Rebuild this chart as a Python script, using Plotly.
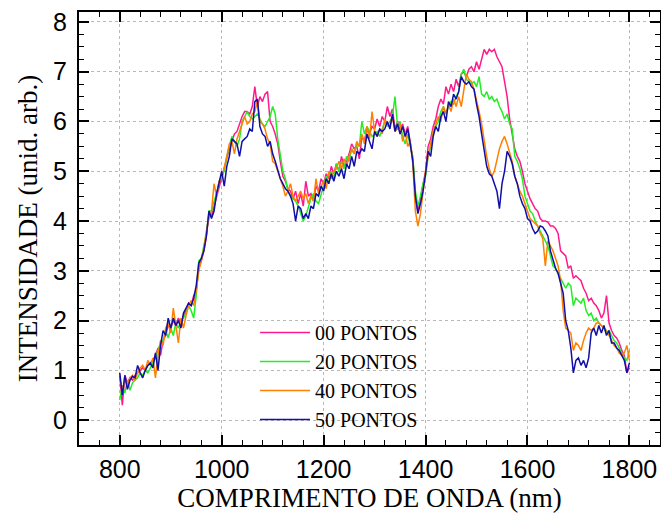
import plotly.graph_objects as go

wavelength = list(range(800, 1805, 5))

p00 = [0.9,0.3,0.9,0.75,0.85,0.8,0.9,0.95,1.0,1.05,1.0,1.1,1.15,1.2,1.3,1.45,1.3,1.6,1.7,1.9,
       1.85,2.0,1.9,2.05,1.95,2.1,2.2,2.35,2.3,2.5,2.6,3.05,3.2,3.4,3.7,4.15,4.1,4.3,4.5,4.7,
       4.9,5.05,5.25,5.45,5.6,5.75,5.8,5.95,6.1,6.2,6.2,6.15,6.3,6.7,6.3,6.5,6.4,6.55,6.6,6.0,
       5.9,5.75,5.55,5.2,4.9,4.8,4.65,4.6,4.45,4.6,4.35,4.55,4.3,4.8,4.5,4.55,4.4,4.7,4.6,4.85,
       4.75,4.95,4.85,5.1,4.95,5.15,5.0,5.3,5.1,5.2,5.35,5.55,5.45,5.5,5.25,5.7,5.6,5.85,5.75,5.9,
       5.85,6.05,5.9,6.1,6.0,6.3,6.1,6.25,5.85,6.0,5.85,5.95,5.75,5.9,5.6,5.25,4.45,4.2,4.45,4.7,
       5.0,5.5,5.65,5.9,6.05,6.3,6.45,6.35,6.7,6.55,6.75,6.6,6.85,6.7,6.95,7.0,6.9,7.05,7.1,7.0,
       7.2,7.05,7.25,7.45,7.35,7.45,7.4,7.45,7.3,7.2,7.1,6.8,6.5,6.05,5.75,5.45,5.3,5.2,5.0,4.75,
       4.6,4.45,4.35,4.25,4.2,4.05,4.0,4.0,3.98,3.9,3.9,3.85,3.75,3.4,3.35,3.3,3.05,3.1,2.85,2.9,
       2.85,2.8,2.65,2.55,2.4,2.45,2.35,2.3,2.2,2.05,2.15,2.5,1.95,1.8,1.7,1.65,1.55,1.4,1.3,0.95,
       1.05]

p20 = [0.4,0.7,0.55,0.8,0.6,0.75,0.8,0.85,0.95,0.9,1.0,0.95,1.05,1.15,1.25,1.4,1.55,1.6,1.8,1.65,
       1.85,1.7,1.95,1.85,2.0,2.05,2.15,2.3,2.2,2.05,2.5,3.2,3.25,3.5,3.75,4.2,4.2,4.4,4.55,4.8,
       4.9,5.0,5.3,5.5,5.7,5.6,5.5,5.65,6.0,6.1,6.2,6.1,6.05,6.1,6.15,6.05,5.95,5.9,6.0,6.1,
       6.3,6.15,5.65,5.3,5.0,4.85,4.6,4.5,4.45,4.4,4.3,4.15,4.0,4.1,4.3,4.45,4.55,4.4,4.35,4.55,
       4.75,4.9,4.75,5.0,4.85,5.15,5.0,5.2,5.05,5.3,5.2,5.45,5.35,5.55,5.5,6.0,5.75,5.9,5.8,5.7,
       5.75,5.8,5.7,5.85,6.0,5.9,6.0,6.1,6.5,5.9,6.0,5.7,5.55,5.75,5.5,5.3,4.6,4.3,4.5,4.75,
       4.9,5.3,5.5,5.8,5.9,6.0,6.2,6.3,6.15,6.3,6.4,6.35,6.5,6.6,6.95,7.05,6.85,6.8,6.75,6.8,
       6.7,6.9,6.55,6.5,6.6,6.45,6.5,6.4,6.45,6.3,6.2,6.05,6.15,5.95,5.85,5.3,5.2,5.05,4.85,4.5,
       4.35,4.2,4.15,4.0,3.9,3.8,3.7,3.6,3.5,3.3,3.1,3.05,2.95,2.85,2.75,2.65,2.75,2.7,2.3,2.45,
       2.4,2.35,2.45,2.2,2.1,2.15,2.0,2.05,1.95,1.9,1.85,1.75,1.8,1.7,1.6,1.55,1.45,1.35,1.25,1.2,
       1.4]

p40 = [0.85,0.6,0.8,0.7,0.85,0.9,0.8,0.95,1.05,1.1,1.0,1.2,1.1,1.25,0.85,1.3,1.6,1.5,1.85,1.95,
       1.75,2.25,1.9,1.55,2.05,1.85,2.1,2.3,2.4,2.3,2.6,3.0,3.2,3.45,3.8,4.05,4.2,4.75,4.5,4.8,
       4.85,5.05,5.3,5.55,5.6,5.35,5.65,5.8,5.95,6.1,5.95,6.0,6.15,6.2,6.4,6.0,5.95,5.85,5.65,5.55,
       5.2,5.15,5.0,4.85,4.7,4.5,4.6,4.75,4.5,4.4,4.5,4.6,4.45,4.55,4.35,4.5,4.4,4.85,4.55,4.7,
       4.8,4.65,5.0,4.85,5.0,5.05,5.2,5.05,5.25,5.1,5.3,5.45,5.35,5.6,5.5,5.75,5.55,5.9,5.65,6.2,
       5.8,5.7,5.85,5.75,6.05,5.95,5.9,6.1,5.8,5.85,5.95,5.6,5.8,5.5,5.6,5.15,4.2,3.9,4.15,4.6,
       5.0,5.3,5.55,5.8,5.95,6.1,6.0,6.3,6.15,6.35,6.2,6.45,6.3,6.5,6.3,6.6,6.95,6.85,6.8,6.65,
       6.45,6.2,5.95,5.6,5.3,5.05,4.9,5.0,5.25,5.45,5.6,5.7,5.55,5.35,5.2,4.9,4.75,4.6,4.5,4.35,
       4.2,4.05,4.0,3.95,3.9,3.75,3.65,3.1,3.6,3.5,3.4,3.25,3.1,2.8,2.2,1.85,1.8,1.75,1.4,1.55,
       1.5,1.4,1.6,1.75,1.85,1.8,1.85,1.95,1.95,1.9,1.85,1.8,1.7,1.6,1.5,1.45,1.35,1.3,1.35,1.5,
       1.2]

p50 = [0.95,0.5,0.9,0.62,0.8,0.88,0.85,1.1,0.95,0.85,1.0,1.1,1.15,1.05,1.35,1.0,1.5,1.8,1.7,2.05,
       1.85,2.05,1.9,2.0,1.85,2.15,2.25,2.35,2.3,2.45,2.7,3.15,3.25,3.4,3.7,4.2,4.05,4.2,4.55,4.75,
       5.0,4.7,5.1,5.3,5.65,5.6,5.55,5.3,5.6,5.65,5.7,5.85,5.8,6.4,6.45,5.9,5.75,5.7,5.5,5.6,
       5.35,5.2,5.0,4.85,4.75,4.65,4.6,4.5,4.35,4.0,4.3,4.25,4.05,4.15,4.05,4.3,4.25,4.55,4.5,4.7,
       4.6,4.85,4.75,4.95,4.8,5.0,4.9,5.05,4.85,5.15,5.05,5.3,5.1,5.4,5.35,5.45,5.4,5.75,5.6,5.45,
       5.8,5.7,5.85,5.8,5.85,6.0,5.85,6.15,5.8,5.95,5.75,5.9,5.7,5.85,5.55,5.2,4.5,4.15,4.35,4.6,
       4.95,5.4,5.3,5.7,5.9,5.8,6.1,6.2,6.0,6.4,6.3,6.55,6.45,6.6,6.9,6.8,6.75,6.8,6.7,6.65,
       6.35,6.1,5.75,5.45,5.1,4.95,4.9,4.75,4.6,4.25,4.75,5.0,5.4,5.3,5.15,4.9,4.75,4.5,4.35,4.25,
       4.05,4.0,3.85,3.75,3.8,3.9,3.88,3.8,3.7,3.4,3.2,3.05,2.95,2.75,2.55,2.0,1.8,1.45,0.95,1.2,
       1.25,1.1,1.2,1.05,1.25,1.75,1.85,1.7,1.9,1.75,1.9,1.7,1.8,1.55,1.55,1.45,1.4,1.3,1.2,0.95,
       1.15]

series_names = ["00 PONTOS", "20 PONTOS", "40 PONTOS", "50 PONTOS"]
series_values = [p00, p20, p40, p50]
series_colors = ["#ff1a8c", "#22ee22", "#ff8000", "#1010a8"]

x_ticks = [800, 1000, 1200, 1400, 1600, 1800]
y_ticks = [0, 1, 2, 3, 4, 5, 6, 7, 8]

fig = go.Figure()
for name, vals, col in zip(series_names, series_values, series_colors):
    fig.add_trace(go.Scatter(x=wavelength, y=vals, mode="lines", name=name,
                             line=dict(color=col, width=1.5)))

axis_common = dict(
    showline=True, linecolor="black", linewidth=2, mirror="allticks",
    ticks="inside", ticklen=10, tickwidth=1.5, tickcolor="black",
    showgrid=True, gridcolor="#b8b8b8", griddash="dot", gridwidth=1,
    zeroline=False, automargin=False,
    tickfont=dict(family="Liberation Sans, Arial, sans-serif", size=25, color="black"),
)

title_font = dict(family="Liberation Serif, Times New Roman, serif", size=27, color="black")

fig.update_xaxes(range=[720, 1860], tickvals=x_ticks,
                 minor=dict(ticks="inside", ticklen=5, dtick=40, tick0=800,
                            tickcolor="black", tickwidth=1.2, showgrid=False),
                 title=dict(text="COMPRIMENTO DE ONDA (nm)", font=title_font, standoff=6),
                 ticklabelstandoff=1,
                 **axis_common)
fig.update_yaxes(range=[-0.5, 8.2], tickvals=y_ticks,
                 minor=dict(ticks="inside", ticklen=5, dtick=0.25, tick0=0,
                            tickcolor="black", tickwidth=1.2, showgrid=False),
                 title=dict(text="INTENSIDADE (unid. arb.)", font=title_font, standoff=8),
                 ticklabelstandoff=5,
                 **axis_common)

fig.update_layout(
    width=661, height=517,
    margin=dict(l=79, r=1, t=12, b=72),
    plot_bgcolor="white", paper_bgcolor="white",
    legend=dict(x=0.303, y=0.305, xanchor="left", yanchor="top",
                bgcolor="rgba(0,0,0,0)", borderwidth=0,
                font=dict(family="Liberation Serif, Times New Roman, serif", size=20, color="black"),
                tracegroupgap=0, itemwidth=50),
    showlegend=True,
)

fig.write_html("out.html", config={"displayModeBar": False},
               post_script="document.body.style.margin='0px';document.body.style.padding='0px';")
